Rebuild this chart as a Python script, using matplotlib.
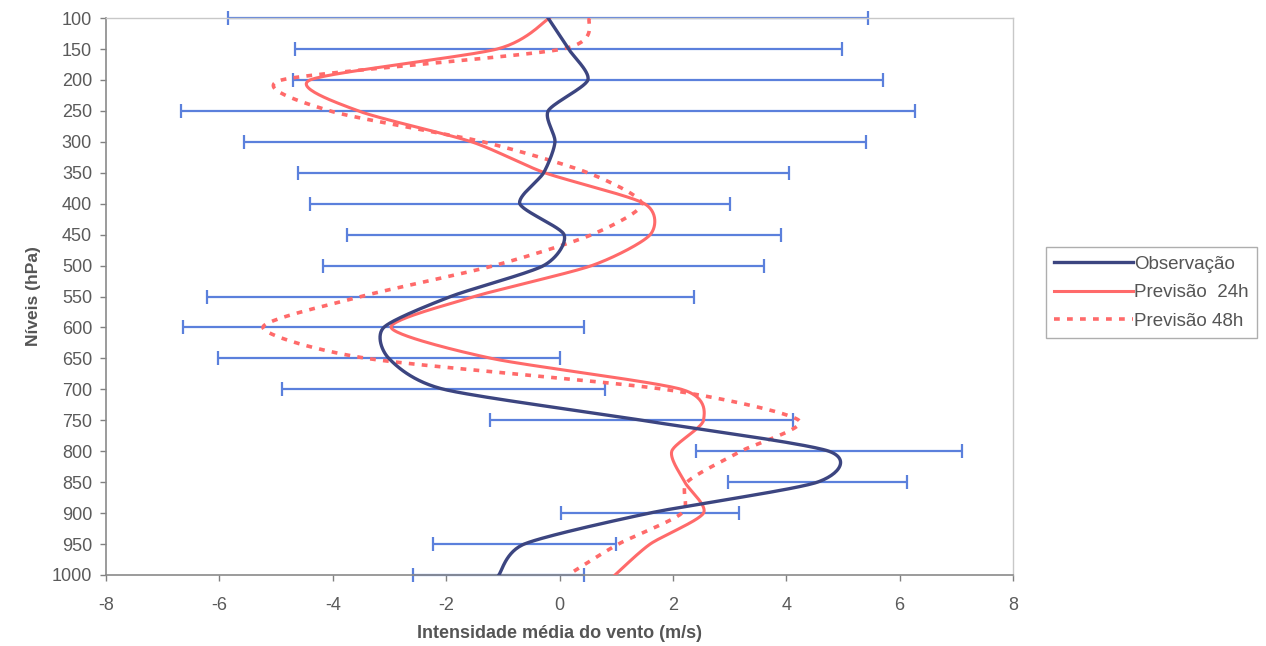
import numpy as np
import matplotlib
matplotlib.use("Agg")
import matplotlib.pyplot as plt

plt.rcParams['font.family'] = ['Liberation Sans', 'DejaVu Sans']
plt.rcParams['axes.unicode_minus'] = False

# níveis de pressão (hPa)
niveis = [100, 150, 200, 250, 300, 350, 400, 450, 500, 550,
          600, 650, 700, 750, 800, 850, 900, 950, 1000]

# intensidade média observada (m/s) e desvio padrão
observacao = [-0.20, 0.16, 0.50, -0.20, -0.08, -0.28, -0.70, 0.08, -0.28, -1.92,
              -3.10, -3.01, -2.04, 1.45, 4.75, 4.55, 1.59, -0.62, -1.07]
desvio = [5.65, 4.82, 5.20, 6.47, 5.49, 4.33, 3.70, 3.83, 3.89, 4.29,
          3.54, 3.01, 2.85, 2.67, 2.35, 1.58, 1.57, 1.62, 1.51]

# previsões do modelo
prev_24h = [-0.18, -1.10, -4.40, -3.55, -1.55, -0.26, 1.50, 1.60, 0.57, -1.50,
            -2.97, -1.20, 2.15, 2.54, 1.98, 2.21, 2.54, 1.60, 0.98]
prev_48h = [0.53, 0.05, -4.90, -4.05, -1.35, 0.50, 1.45, 0.57, -1.15, -3.50,
            -5.23, -3.40, 1.85, 4.22, 3.20, 2.25, 2.16, 1.04, 0.15]


def suaviza(x, y, k=0.37, sx=56.6, sy=0.619, n=30):
    """Curva suave (Hermite cúbica) passando por todos os pontos."""
    p = np.column_stack([np.asarray(x) * sx, np.asarray(y) * sy])
    p = np.vstack([p[0], p, p[-1]])
    t = np.linspace(0, 1, n)[:, None]
    h00 = 2 * t ** 3 - 3 * t ** 2 + 1
    h10 = t ** 3 - 2 * t ** 2 + t
    h01 = -2 * t ** 3 + 3 * t ** 2
    h11 = t ** 3 - t ** 2
    pts = []
    for i in range(1, len(p) - 2):
        p0, p1, p2, p3 = p[i - 1], p[i], p[i + 1], p[i + 2]
        m1 = k * (p2 - p0)
        m2 = k * (p3 - p1)
        pts.append(h00 * p1 + h10 * m1 + h01 * p2 + h11 * m2)
    c = np.vstack(pts)
    return c[:, 0] / sx, c[:, 1] / sy


fig = plt.figure(figsize=(12.66, 6.46), dpi=100)
ax = fig.add_axes([0.0837, 0.110, 0.7165, 0.862])

cor_obs = '#3c4580'
cor_prev = '#ff6a6a'
cor_erro = '#5b80dc'

ax.errorbar(observacao, niveis, xerr=desvio, fmt='none', ecolor=cor_erro,
            elinewidth=1.6, capsize=5, capthick=1.6, zorder=2, clip_on=False)

xs, ys = suaviza(observacao, niveis)
ax.plot(xs, ys, color=cor_obs, lw=2.4, label='Observação', zorder=4)
xs, ys = suaviza(prev_24h, niveis)
ax.plot(xs, ys, color=cor_prev, lw=2.2, label='Previsão  24h', zorder=3)
xs, ys = suaviza(prev_48h, niveis)
ax.plot(xs, ys, color=cor_prev, lw=2.6, ls=(0, (1.6, 2.0)),
        label='Previsão 48h', zorder=3)

ax.set_xlim(-8, 8)
ax.set_ylim(1000, 100)
ax.set_xticks(range(-8, 9, 2))
ax.set_yticks(niveis)
ax.tick_params(axis='both', direction='out', length=4, width=1,
               colors='#808080', labelcolor='#5a5a5a', labelsize=13)
ax.tick_params(axis='x', pad=12)
ax.tick_params(axis='y', pad=6)

for lado in ['left', 'bottom']:
    ax.spines[lado].set_color('#8a8a8a')
    ax.spines[lado].set_linewidth(1.2)
for lado in ['top', 'right']:
    ax.spines[lado].set_color('#c8c8c8')
    ax.spines[lado].set_linewidth(1.0)

ax.set_xlabel('Intensidade média do vento (m/s)', fontsize=13,
              fontweight='bold', color='#555555', labelpad=8)
ax.set_ylabel('Níveis (hPa)', fontsize=12.5, fontweight='bold',
              color='#555555', labelpad=8)

leg = fig.legend(loc='upper left', bbox_to_anchor=(0.826, 0.617),
                 fontsize=13.5, frameon=True, fancybox=False,
                 handlelength=4.2, handletextpad=0.05, borderpad=0.45,
                 labelspacing=0.6, borderaxespad=0)
leg.get_frame().set_edgecolor('#9a9a9a')
leg.get_frame().set_linewidth(1.0)
for t in leg.get_texts():
    t.set_color('#555555')

fig.savefig('out.png', dpi=100)
